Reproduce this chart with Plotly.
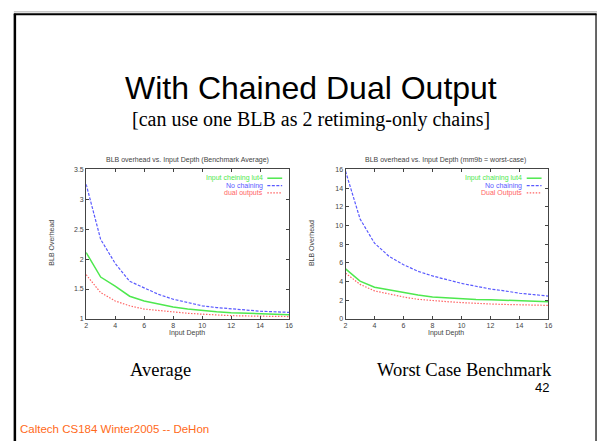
import plotly.graph_objects as go

# ---------------- data ----------------
input_depth = [2, 3, 4, 5, 6, 7, 8, 9, 10, 11, 12, 13, 14, 15, 16]

avg_input_chaining = [2.11, 1.70, 1.55, 1.38, 1.30, 1.25, 1.20, 1.165, 1.14, 1.12, 1.105, 1.095, 1.085, 1.08, 1.07]
avg_no_chaining = [3.25, 2.33, 1.93, 1.63, 1.52, 1.41, 1.33, 1.27, 1.22, 1.19, 1.165, 1.15, 1.13, 1.115, 1.11]
avg_dual_outputs = [1.74, 1.44, 1.30, 1.22, 1.165, 1.14, 1.11, 1.095, 1.08, 1.065, 1.055, 1.05, 1.045, 1.04, 1.04]

worst_input_chaining = [5.35, 4.05, 3.40, 3.10, 2.80, 2.55, 2.35, 2.25, 2.15, 2.08, 2.05, 2.00, 1.95, 1.90, 1.85]
worst_no_chaining = [15.8, 10.7, 8.1, 6.7, 5.8, 5.1, 4.6, 4.2, 3.8, 3.5, 3.2, 3.0, 2.75, 2.6, 2.45]
worst_dual_outputs = [4.90, 3.70, 3.00, 2.65, 2.35, 2.10, 1.95, 1.85, 1.75, 1.65, 1.60, 1.55, 1.50, 1.48, 1.45]

avg_names = ["Input cheining lut4", "No chaining", "dual outputs"]
worst_names = ["Input chaining lut4", "No chaining", "Dual Outputs"]

x_ticks = [2, 4, 6, 8, 10, 12, 14, 16]
avg_y_ticks = [1, 1.5, 2, 2.5, 3, 3.5]
worst_y_ticks = [0, 2, 4, 6, 8, 10, 12, 14, 16]

# ---------------- layout helpers ----------------
W, H = 602, 444


def px(x):
    return x / W


def py(y):
    return 1 - y / H


colors = ["#4ee84e", "#5a5aff", "#ff6464"]
dashes = ["solid", "3px,1.5px", "1.5px,1.5px"]
widths = [1.5, 1.2, 1.2]
txt = "#444444"
fsmall = 7

fig = go.Figure()

left_series = [avg_input_chaining, avg_no_chaining, avg_dual_outputs]
right_series = [worst_input_chaining, worst_no_chaining, worst_dual_outputs]

for i, ys in enumerate(left_series):
    fig.add_trace(go.Scatter(x=input_depth, y=ys, mode="lines", name=avg_names[i],
                             line=dict(color=colors[i], dash=dashes[i], width=widths[i]),
                             xaxis="x", yaxis="y", showlegend=False))
for i, ys in enumerate(right_series):
    fig.add_trace(go.Scatter(x=input_depth, y=ys, mode="lines", name=worst_names[i],
                             line=dict(color=colors[i], dash=dashes[i], width=widths[i]),
                             xaxis="x2", yaxis="y2", showlegend=False))

axis_common = dict(showline=True, linecolor="#444444", linewidth=1, mirror="ticks",
                   ticks="inside", ticklen=3, tickcolor="#444444", showgrid=False,
                   zeroline=False, tickfont=dict(size=fsmall, color=txt, family="Liberation Sans"))

fig.update_layout(
    width=W, height=H, margin=dict(l=0, r=0, t=0, b=0),
    paper_bgcolor="white", plot_bgcolor="white",
    xaxis=dict(domain=[px(85), px(290)], range=[2, 16], tickvals=x_ticks, anchor="y", **axis_common),
    yaxis=dict(domain=[py(320), py(168)], range=[1, 3.5], tickvals=avg_y_ticks, anchor="x", **axis_common),
    xaxis2=dict(domain=[px(347), px(552)], range=[2, 16], tickvals=x_ticks, anchor="y2", **axis_common),
    yaxis2=dict(domain=[py(320), py(168)], range=[0, 16], tickvals=worst_y_ticks, anchor="x2", **axis_common),
)

ann = []


def add_text(x, y, text, size, color="black", family="Liberation Sans", xanchor="center", angle=0):
    ann.append(dict(x=px(x), y=py(y), text=text, xref="paper", yref="paper", showarrow=False,
                    xanchor=xanchor, yanchor="middle", textangle=angle,
                    font=dict(size=size, color=color, family=family)))


# chart titles
add_text(187, 159, "BLB overhead vs. Input Depth (Benchmark Average)", fsmall, txt)
add_text(448, 159, "BLB overhead vs. Input Depth (mm9b = worst-case)", fsmall, txt)
# x titles
add_text(187, 334, "Input Depth", fsmall, txt)
add_text(448, 334, "Input Depth", fsmall, txt)
# y titles
add_text(50, 243, "BLB Overhead", fsmall, txt, angle=-90)
add_text(312, 243, "BLB Overhead", fsmall, txt, angle=-90)

shapes = []
# keys (gnuplot style: text then sample line)
key_rows = [177, 184.5, 192]
for names, text_right, s0, s1 in ((avg_names, 266, 268, 283), (worst_names, 527, 530, 545)):
    for i, nm in enumerate(names):
        add_text(text_right, key_rows[i], nm, fsmall, colors[i], xanchor="right")
        shapes.append(dict(type="line", xref="paper", yref="paper", x0=px(s0), x1=px(s1),
                           y0=py(key_rows[i]), y1=py(key_rows[i]),
                           line=dict(color=colors[i], dash=dashes[i], width=widths[i])))

# slide text
add_text(312, 85.5, "With Chained Dual Output", 32)
add_text(312, 117.5, "[can use one BLB as 2 retiming-only chains]", 20, family="Liberation Serif")
add_text(160, 372, "Average", 18.5, family="Liberation Serif")
add_text(467, 372, "Worst Case Benchmark", 18.5, family="Liberation Serif")
add_text(545, 390, "42", 13)
add_text(16, 432, "Caltech CS184 Winter2005 -- DeHon", 11.5, color="#ff6a1a", xanchor="left")

# slide frame
shapes.append(dict(type="line", xref="paper", yref="paper", x0=px(12), x1=px(601), y0=py(8), y1=py(8),
                   line=dict(color="#aaaaaa", width=1)))
shapes.append(dict(type="line", xref="paper", yref="paper", x0=px(12), x1=px(600.5), y0=py(10.5), y1=py(10.5),
                   line=dict(color="black", width=2)))
shapes.append(dict(type="line", xref="paper", yref="paper", x0=px(13), x1=px(13), y0=py(10), y1=py(444),
                   line=dict(color="black", width=2.5)))
shapes.append(dict(type="line", xref="paper", yref="paper", x0=px(600), x1=px(600), y0=py(10), y1=py(444),
                   line=dict(color="black", width=1.2)))

fig.update_layout(annotations=ann, shapes=shapes)
fig.write_html("out.html", config={"displayModeBar": False},
               post_script="document.body.style.margin='0';document.body.style.overflow='hidden';")
